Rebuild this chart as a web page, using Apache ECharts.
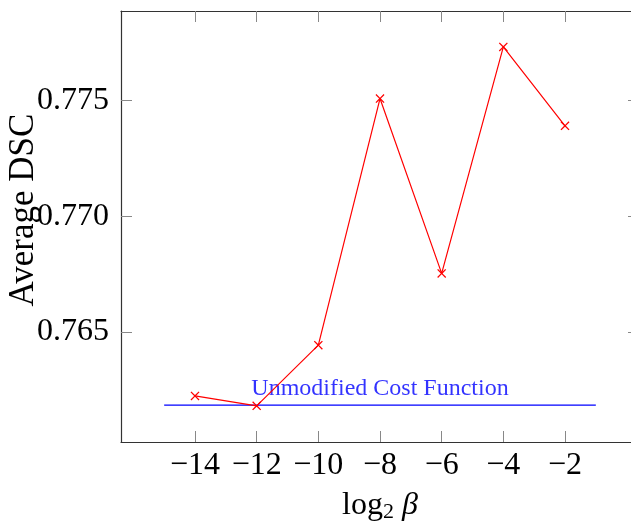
<!DOCTYPE html>
<html>
<head>
<meta charset="utf-8">
<script src="https://cdn.jsdelivr.net/npm/echarts@6/dist/echarts.min.js"></script>
<style>
html,body{margin:0;padding:0;background:#fff;}
#chart{width:631px;height:522px;}
</style>
</head>
<body>
<div id="chart"></div>
<script>
// Data
var betaLog2 = [-14, -12, -10, -8, -6, -4, -2];
var avgDSC = [0.76224, 0.76181, 0.76443, 0.77508, 0.76753, 0.77731, 0.77390];
var baselineX = [-15, -1];
var baselineDSC = 0.76184;
var baselineLabelX = -8;
var baselineLabel = 'Unmodified Cost Function';
var xTicks = [-14, -12, -10, -8, -6, -4, -2];
var yTicks = [0.765, 0.770, 0.775];

var FONT = '"Liberation Serif", "Times New Roman", serif';

var redData = betaLog2.map(function (x, i) { return [x, avgDSC[i]]; });
var blueData = baselineX.map(function (x) { return [x, baselineDSC]; });

var xCommon = {
  type: 'value', min: -16.4, max: 0.4,
  axisLine: { show: true, onZero: false, lineStyle: { color: '#333', width: 1.2 } },
  splitLine: { show: false },
  axisTick: { show: true, inside: true, length: 11, customValues: xTicks, lineStyle: { color: '#888', width: 1 } }
};
var yCommon = {
  type: 'value', min: 0.76025, max: 0.77886,
  axisLine: { show: true, onZero: false, lineStyle: { color: '#333', width: 1.2 } },
  splitLine: { show: false },
  axisTick: { show: true, inside: true, length: 11, customValues: yTicks, lineStyle: { color: '#888', width: 1 } }
};

var xSymbol = 'path://M0,1 L1,0 L5,4 L9,0 L10,1 L6,5 L10,9 L9,10 L5,6 L1,10 L0,9 L4,5 Z';

var option = {
  animation: false,
  backgroundColor: '#fff',
  grid: { left: 121, top: 11, width: 518, height: 431, containLabel: false, outerBoundsMode: 'none' },
  xAxis: [
    Object.assign({}, xCommon, {
      position: 'bottom',
      axisLabel: {
        show: true, customValues: xTicks, margin: 8,
        fontFamily: FONT, fontSize: 32, color: '#000',
        formatter: function (v) { return (v < 0 ? '\u2212' : '') + Math.abs(v); }
      },
      name: '{a|log}{b|2}{c| \u03b2}',
      nameLocation: 'middle', nameGap: 47,
      nameTextStyle: {
        fontFamily: FONT, fontSize: 32, color: '#000',
        rich: {
          a: { fontFamily: FONT, fontSize: 32, color: '#000' },
          b: { fontFamily: FONT, fontSize: 22, color: '#000', padding: [12, 0, 0, 0], verticalAlign: 'bottom' },
          c: { fontFamily: FONT, fontSize: 32, fontStyle: 'italic', color: '#000' }
        }
      }
    }),
    Object.assign({}, xCommon, { position: 'top', axisLabel: { show: false } })
  ],
  yAxis: [
    Object.assign({}, yCommon, {
      position: 'left',
      axisLabel: {
        show: true, customValues: yTicks, margin: 12,
        fontFamily: FONT, fontSize: 32, color: '#000',
        formatter: function (v) { return v.toFixed(3); }
      }
    }),
    Object.assign({}, yCommon, { position: 'right', axisLabel: { show: false } })
  ],
  graphic: [{
    type: 'text', x: 24, y: 210, rotation: Math.PI / 2,
    style: { text: 'Average DSC', font: '35px ' + FONT, fill: '#000', textAlign: 'center', textVerticalAlign: 'middle' }
  }],
  series: [
    {
      type: 'line', data: blueData, xAxisIndex: 0, yAxisIndex: 0,
      symbol: 'none', lineStyle: { color: '#0000ff', width: 1.2 }, z: 2
    },
    {
      type: 'scatter', data: [[baselineLabelX, baselineDSC]], xAxisIndex: 0, yAxisIndex: 0,
      symbolSize: 0, silent: true, z: 2,
      label: {
        show: true, position: 'top', distance: 4, formatter: baselineLabel,
        fontFamily: FONT, fontSize: 24, color: '#0000ff'
      }
    },
    {
      type: 'line', data: redData, xAxisIndex: 0, yAxisIndex: 0,
      symbol: xSymbol, symbolSize: 9, showAllSymbol: true,
      lineStyle: { color: '#ff0000', width: 1.2 },
      itemStyle: { color: '#ff0000' }, z: 3
    }
  ]
};

var chart = echarts.init(document.getElementById('chart'), null, { renderer: 'canvas' });
chart.setOption(option);
</script>
</body>
</html>
